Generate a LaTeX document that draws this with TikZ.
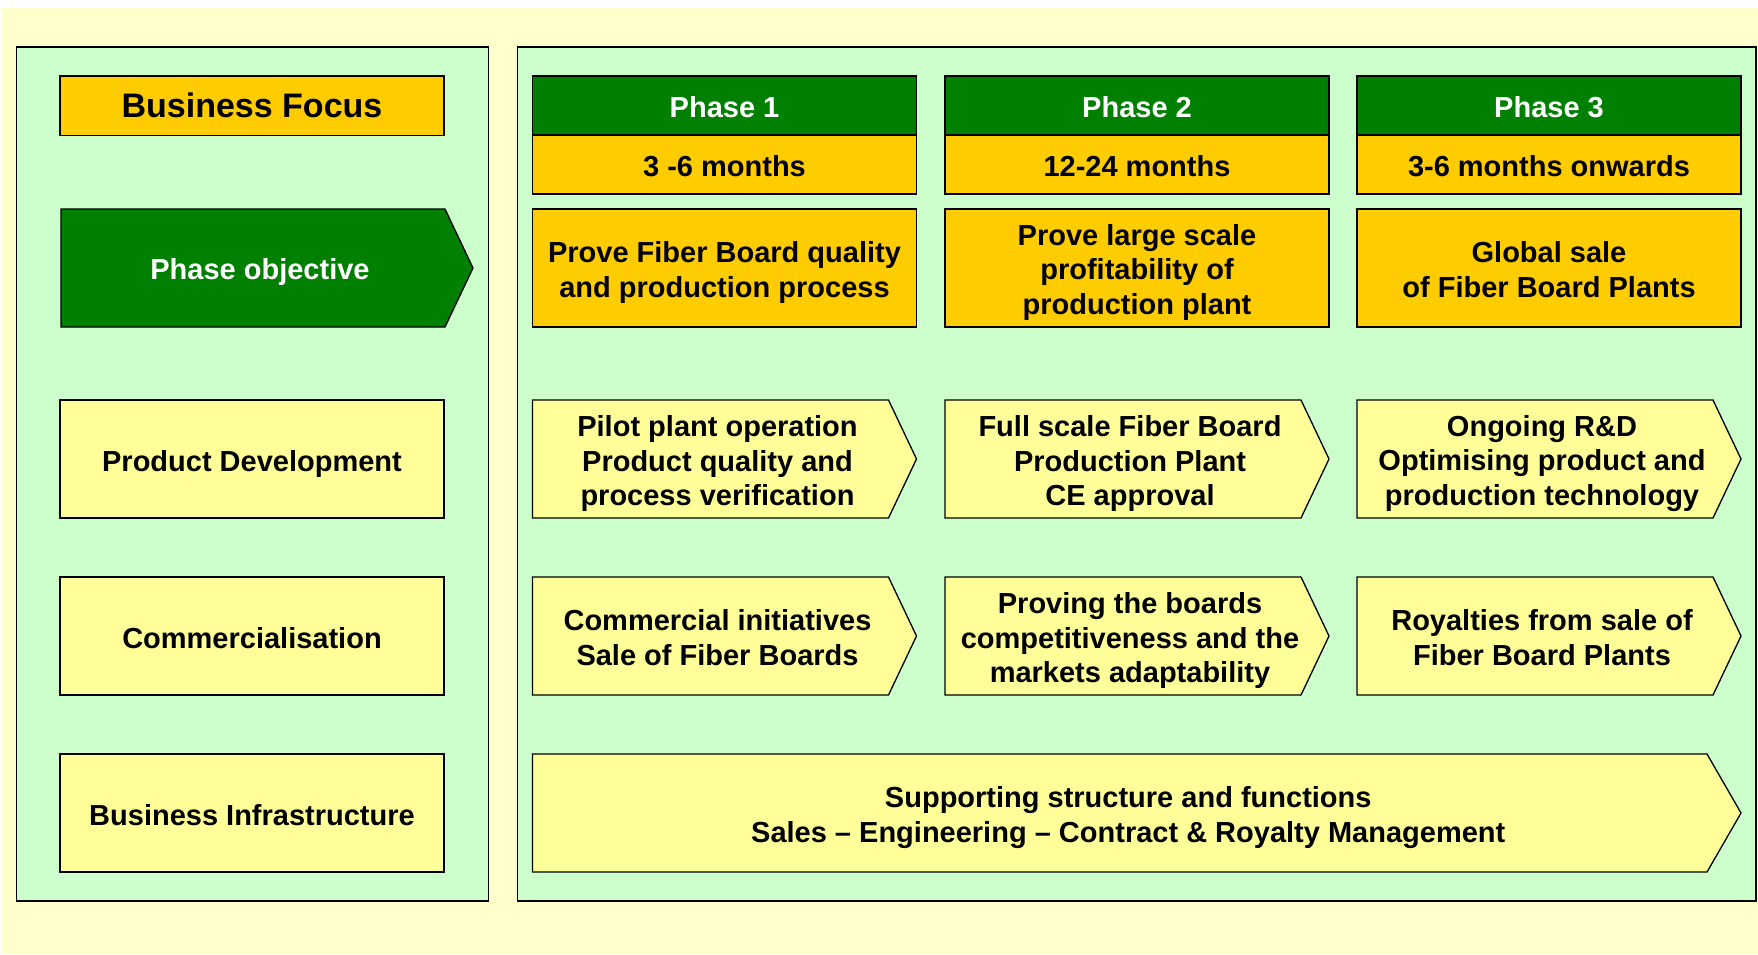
\documentclass[tikz,border=0pt]{standalone}
\usepackage{fontspec}
\setmainfont{Liberation Sans}
\usetikzlibrary{calc}

\definecolor{bgyellow}{HTML}{FFFFCC}
\definecolor{panelgreen}{HTML}{CCFFCC}
\definecolor{darkgreen}{HTML}{008000}
\definecolor{gold}{HTML}{FFCC00}
\definecolor{paleyellow}{HTML}{FFFF99}

% fixed line box, so that every text sits like the others
\newcommand{\tstrut}{\rule[-6pt]{0pt}{36pt}}

\tikzset{
  txt/.style={font=\fontsize{29}{34.5}\selectfont\bfseries, align=center,
              execute at end node=\tstrut},
  box/.style={draw, line width=1.3pt, inner sep=0pt, txt},
  panel/.style={draw, line width=1.3pt, fill=panelgreen},
}

% chevron: [tip depth] name, fill, left, top, right, bottom, text
\newcommand{\chevron}[8][28]{%
  \draw[line width=1.3pt, fill=#3] (#4,#5) -- ({#6-#1},#5) -- (#6,{(#5+#7)/2})
    -- ({#6-#1},#7) -- (#4,#7) -- cycle;
  \node[txt] (#2) at ({(#4+#6-#1/2)/2},{(#5+#7)/2}) {\tstrut#8};
}

\begin{document}
\begin{tikzpicture}[x=1pt, y=-1pt]
    \useasboundingbox (0,0) rectangle (1758,954);

    % Background and panels
    \fill[bgyellow] (2,8) rectangle (1758,954);
    \draw[panel] (16.5,47) rectangle (488.5,901);
    \draw[panel] (517.5,47) rectangle (1756,901);

    % Left column
    \node[box, fill=gold, minimum width=384, minimum height=59.5,
          font=\fontsize{34}{40}\selectfont\bfseries] (focus) at (252,105.8) {Business Focus};
    \chevron{objective}{darkgreen}{61}{209}{473}{327}{\textcolor{white}{Phase objective}}
    \node[box, fill=paleyellow, minimum width=384, minimum height=118] (product) at (252,459) {Product Development};
    \node[box, fill=paleyellow, minimum width=384, minimum height=118] (commercial) at (252,636) {Commercialisation};
    \node[box, fill=paleyellow, minimum width=384, minimum height=118] (infra) at (252,813) {Business Infrastructure};

    % Phase headers
    \foreach \x/\n/\t in {532.5/1/3 -6 months, 945/2/12-24 months, 1357/3/3-6 months onwards} {
        \node[box, fill=darkgreen, text=white, minimum width=384, minimum height=59] (phase\n) at ({\x+192},105.5) {Phase \n};
        \node[box, fill=gold, minimum width=384, minimum height=59] (months\n) at ({\x+192},164.5) {\t};
    }

    % Phase objectives
    \node[box, fill=gold, minimum width=384, minimum height=118] (goal1) at (724.5,268) {\tstrut Prove Fiber Board quality\\and production process};
    \node[box, fill=gold, minimum width=384, minimum height=118] (goal2) at (1137,268) {\tstrut Prove large scale\\profitability of\\production plant};
    \node[box, fill=gold, minimum width=384, minimum height=118] (goal3) at (1549,268) {\tstrut Global sale\\of Fiber Board Plants};

    % Product development
    \chevron{pilot}{paleyellow}{532.5}{400}{916.5}{518}{Pilot plant operation\\Product quality and\\process verification}
    \chevron{fullscale}{paleyellow}{945}{400}{1329}{518}{Full scale Fiber Board\\Production Plant\\CE approval}
    \chevron{rnd}{paleyellow}{1357}{400}{1741}{518}{Ongoing R\&D\\Optimising product and\\production technology}

    % Commercialisation
    \chevron{initiatives}{paleyellow}{532.5}{577}{916.5}{695}{Commercial initiatives\\Sale of Fiber Boards}
    \chevron{proving}{paleyellow}{945}{577}{1329}{695}{Proving the boards\\competitiveness and the\\markets adaptability}
    \chevron{royalties}{paleyellow}{1357}{577}{1741}{695}{Royalties from sale of\\Fiber Board Plants}

    % Business infrastructure
    \chevron[34]{support}{paleyellow}{532.5}{754}{1741}{872}{Supporting structure and functions\\Sales – Engineering – Contract \& Royalty Management}
\end{tikzpicture}
\end{document}
